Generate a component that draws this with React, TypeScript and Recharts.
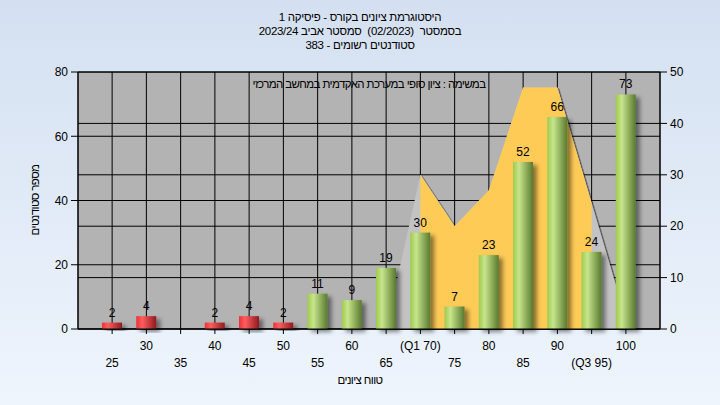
import {
  ComposedChart,
  Bar,
  Area,
  XAxis,
  YAxis,
  CartesianGrid,
  LabelList,
} from "recharts";

const grades = [25, 30, 35, 40, 45, 50, 55, 60, 65, 70, 75, 80, 85, 90, 95, 100];
const tickLabels = ["25", "30", "35", "40", "45", "50", "55", "60", "65", "(Q1 70)", "75", "80", "85", "90", "(Q3 95)", "100"];
const students = [2, 4, 0, 2, 4, 2, 11, 9, 19, 30, 7, 23, 52, 66, 24, 73];
// right axis series
const spread = [null, null, null, null, null, null, null, null, 0, 30, 20, 27, 47, 47, 24.5, 2];
const quartileRange = [null, null, null, null, null, null, null, null, null, 30, 20, 27, 47, 47, 24.5, null];
const leftTicks = [0, 20, 40, 60, 80];
const rightTicks = [0, 10, 20, 30, 40, 50];
const failBelow = 55;

const data = grades.map((g, i) => ({
  grade: g,
  count: students[i],
  spread: spread[i],
  iqr: quartileRange[i],
}));

const font = "'Liberation Sans', Arial, sans-serif";

const XTick = (props: any) => {
  const { x, y, index } = props;
  const lower = index % 2 === 0;
  return (
    <text x={x} y={y + (lower ? 31 : 13.5)} textAnchor="middle" fontSize={12} fill="#000" fontFamily={font}>
      {tickLabels[index]}
    </text>
  );
};

const BarShape = (props: any) => {
  const { x, y, width, height, payload } = props;
  if (!height || height <= 0) return null;
  const fill = payload.grade < failBelow ? "url(#redBar)" : "url(#greenBar)";
  return <rect x={x} y={y} width={width} height={height} fill={fill} filter="url(#barShadow)" />;
};

const hebrew = { fontSize: 11.5, direction: "rtl" as const, color: "#000", letterSpacing: -0.3 };

const App = () => {
  return (
    <div
      style={{
        position: "absolute",
        left: 0,
        top: 0,
        width: 720,
        height: 405,
        background: "linear-gradient(to bottom, #D4E0F1, #EEF5FD)",
        fontFamily: font,
      }}
    >
      <div
        style={{
          ...hebrew,
          position: "absolute",
          top: 10,
          left: 0,
          width: 720,
          textAlign: "center",
          lineHeight: "14px",
        }}
      >
        <div>היסטוגרמת ציונים בקורס - פיסיקה 1</div>
        <div>בסמסטר&nbsp;&nbsp;(02/2023)&nbsp;&nbsp;סמסטר אביב 2023/24</div>
        <div>סטודנטים רשומים - 383</div>
      </div>

      <ComposedChart
        width={720}
        height={405}
        data={data}
        margin={{ top: 72, right: 0, bottom: 36, left: 0 }}
      >
        <defs>
          <linearGradient id="greenBar" x1="0" y1="0" x2="1" y2="0">
            <stop offset="0%" stopColor="#9DCB4E" />
            <stop offset="30%" stopColor="#C8E58C" />
            <stop offset="100%" stopColor="#587A2E" />
          </linearGradient>
          <linearGradient id="redBar" x1="0" y1="0" x2="1" y2="0">
            <stop offset="0%" stopColor="#E8323B" />
            <stop offset="30%" stopColor="#FF5D5D" />
            <stop offset="100%" stopColor="#8E1A1F" />
          </linearGradient>
          <filter id="barShadow" x="-50%" y="-20%" width="200%" height="150%">
            <feDropShadow dx="4" dy="3" stdDeviation="2" floodColor="#000" floodOpacity="0.45" />
          </filter>
          <filter id="areaShadow" x="-10%" y="-10%" width="120%" height="120%">
            <feDropShadow dx="1.5" dy="1" stdDeviation="0.6" floodColor="#000" floodOpacity="0.7" />
          </filter>
        </defs>
        <CartesianGrid yAxisId="left" stroke="#000" strokeOpacity={1} fill="#B3B3B3" fillOpacity={1} />
        <CartesianGrid yAxisId="right" vertical={false} stroke="#000" strokeOpacity={1} />
        <XAxis
          dataKey="grade"
          type="category"
          interval={0}
          padding={{ left: 17, right: 17 }}
          height={40}
          tickSize={5}
          tickMargin={2}
          tick={<XTick />}
          axisLine={{ stroke: "#000" }}
          tickLine={{ stroke: "#000" }}
        />
        <YAxis
          yAxisId="left"
          domain={[0, 80]}
          ticks={leftTicks}
          width={78}
          tickSize={7}
          tickMargin={3}
          axisLine={{ stroke: "#000" }}
          tickLine={{ stroke: "#000" }}
          tick={{ fill: "#000", fontSize: 12, fontFamily: font }}
        />
        <YAxis
          yAxisId="right"
          orientation="right"
          domain={[0, 50]}
          ticks={rightTicks}
          width={60}
          tickSize={7}
          tickMargin={3}
          axisLine={{ stroke: "#000" }}
          tickLine={{ stroke: "#000" }}
          tick={{ fill: "#000", fontSize: 12, fontFamily: font }}
        />
        <Area
          yAxisId="right"
          type="linear"
          dataKey="spread"
          stroke="none"
          fill="#C3C3C3"
          fillOpacity={1}
          filter="url(#areaShadow)"
          isAnimationActive={false}
        />
        <Area
          yAxisId="right"
          type="linear"
          dataKey="iqr"
          stroke="none"
          fill="#FFCB57"
          fillOpacity={1}
          isAnimationActive={false}
        />
        <Bar yAxisId="left" dataKey="count" barSize={20} shape={<BarShape />} isAnimationActive={false}>
          <LabelList
            dataKey="count"
            position="top"
            offset={6}
            fill="#000"
            fontSize={12}
            fontFamily={font}
            formatter={(v: any) => (v ? v : "")}
          />
        </Bar>
      </ComposedChart>

      <div
        style={{
          ...hebrew,
          position: "absolute",
          left: 78,
          width: 582,
          top: 78,
          textAlign: "center",
          letterSpacing: -0.6,
        }}
      >
        במשימה : ציון סופי במערכת האקדמית במחשב המרכזי
      </div>
      <div
        style={{
          ...hebrew,
          position: "absolute",
          left: 0,
          width: 720,
          top: 374,
          textAlign: "center",
          letterSpacing: -0.6,
        }}
      >
        טווח ציונים
      </div>
      <div
        style={{
          ...hebrew,
          position: "absolute",
          left: 35,
          top: 200,
          transform: "translate(-50%, -50%) rotate(-90deg)",
          whiteSpace: "nowrap",
          letterSpacing: -0.6,
        }}
      >
        מספר סטודנטים
      </div>
    </div>
  );
};

export default App;
